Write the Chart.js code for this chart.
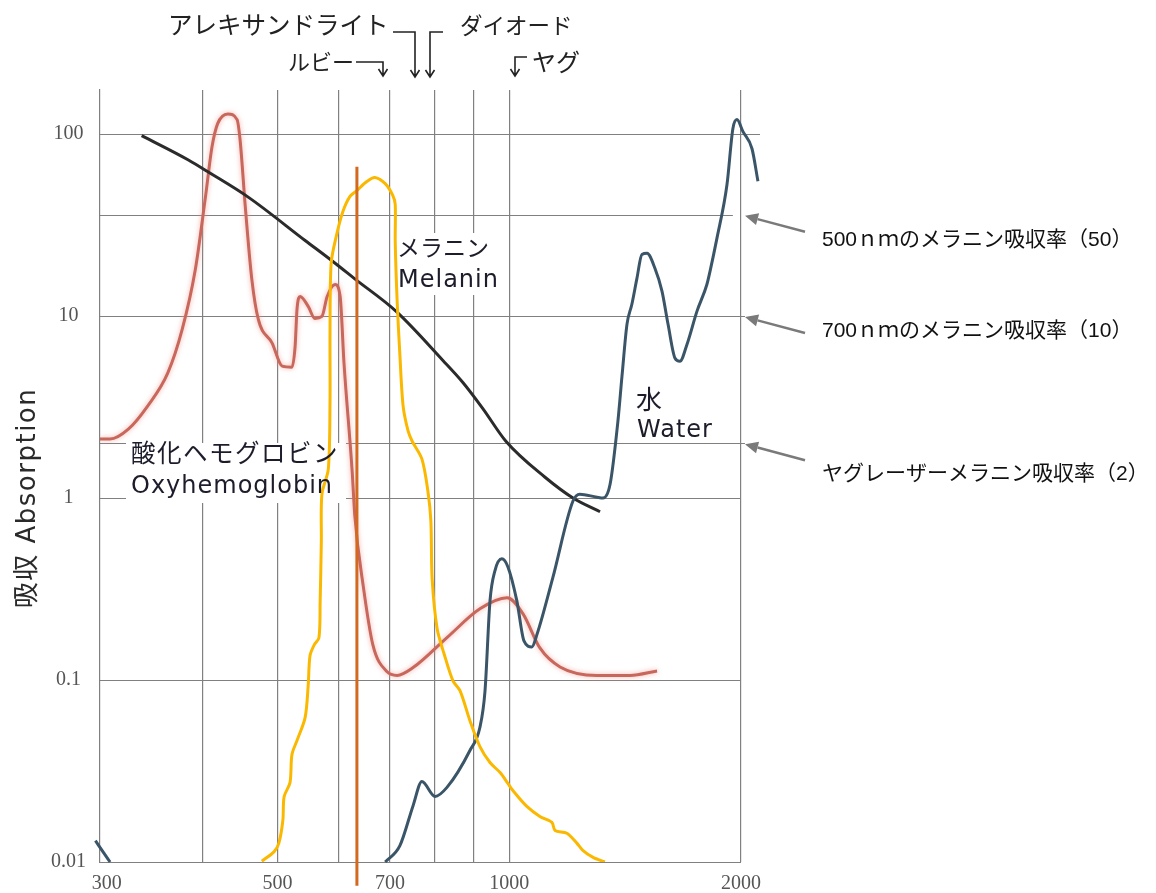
<!DOCTYPE html>
<html>
<head>
<meta charset="utf-8">
<script src="https://cdn.jsdelivr.net/npm/chart.js@4/dist/chart.umd.min.js"></script>
<style>
  html, body { margin: 0; padding: 0; background: #fff; }
  #wrap { width: 1156px; height: 893px; }
</style>
</head>
<body>
<div id="wrap"><canvas id="c" width="1156" height="893"></canvas></div>
<script>
// Wavelength (nm) and absorption per curve
const oxyNm  = [294,303,320,339,360,376,391,403,411,418,431,443,447,454,463,472,492,507,522,527,530,535,548,559,571,580,594,603,610,625,630,646,665,694,715,750,830,916,993,1042,1096,1164,1300,1435,1556];
const oxyAbs = [2.11,2.11,2.39,3.2,4.85,8.46,18,45,85,114,129,120,93,40,15.9,9.6,7.1,5.3,5.23,6.8,10.9,12.8,11.3,9.7,9.96,12.8,14.9,12.8,5.5,1.41,0.8,0.33,0.156,0.111,0.106,0.117,0.171,0.246,0.283,0.231,0.15,0.118,0.106,0.106,0.112];

const melaninNm  = [333,383,406,458,543,594,630,713,820,871,924,990,1113,1210,1312];
const melaninAbs = [98,72,62,45,26,19.5,16,10.6,5.7,4.3,3.1,2.05,1.3,1.0,0.84];

const waterTailNm  = [290,297,303];
const waterTailAbs = [0.0131,0.0113,0.01];
const waterNm  = [690,721,750,770,801,830,889,916,930,944,958,978,996,1023,1045,1070,1086,1139,1210,1235,1300,1324,1352,1384,1401,1422,1443,1465,1487,1510,1546,1579,1608,1642,1666,1702,1753,1806,1823,1861,1918,1952,1976,2012,2067,2104];
const waterAbs = [0.01,0.0123,0.0204,0.0277,0.0229,0.0257,0.041,0.055,0.087,0.272,0.398,0.463,0.418,0.272,0.164,0.152,0.177,0.364,0.963,1.05,1.01,1.0,1.19,2.64,4.67,9.0,11.6,16.1,21.8,22.1,18.3,13.7,9.0,5.86,5.64,7.0,10.6,14.9,17.6,26.7,52.8,107,120,103,83,55];

const lightNm  = [477,495,502,508,510,519,522,530,543,548,551,558,566,568,570,571,582,585,585,587,596,608,621,634,653,669,690,706,711,711,715,721,728,739,748,770,784,791,794,806,823,845,863,889,916,944,973,996,1011,1054,1096,1136,1147,1188,1224,1246,1285,1331];
const lightAbs = [0.0101,0.0114,0.0127,0.0169,0.0229,0.0273,0.0389,0.0465,0.0621,0.093,0.136,0.156,0.171,0.272,0.581,1.05,1.44,3.4,8.24,19.5,27.4,37.5,45.4,48.9,54.8,57.7,53.4,45.9,41.0,25.7,12.2,6.09,3.2,2.33,2.05,1.64,1.09,0.748,0.36,0.191,0.139,0.099,0.0874,0.0598,0.0431,0.0352,0.031,0.027,0.0247,0.0202,0.0178,0.0165,0.0149,0.0144,0.0127,0.0116,0.0106,0.0100];

// Vertical marker wavelength and its absorption span
const markerNm = 634;
const markerAbs = [66, 0.0074];

// Axis ticks
const xGridNm  = [300, 400, 500, 600, 700, 800, 900, 1000, 2000];
const xLabelNm = [300, 500, 700, 1000, 2000];
const yLabelAbs = [0.01, 0.1, 1, 10, 100];
const refLineAbs = [100, 36, 10, 2, 1, 0.1, 0.01];

// Text
const lasers = ['アレキサンドライト', 'ダイオード', 'ルビー', 'ヤグ'];
const notes = ['500ｎｍのメラニン吸収率（50）', '700ｎｍのメラニン吸収率（10）', 'ヤグレーザーメラニン吸収率（2）'];
const noteLineAbs = [36, 10, 2];

const pts = (xs, ys) => xs.map((x, i) => ({ x, y: ys[i] }));

// right end (nm) of each horizontal reference line
const refLineEnd = { 100: 2117, 36: 1952, 10: 2024, 2: 2024, 1: 1994, 0.1: 1994, 0.01: 2000 };

const GRID = '#808080';

const decor = {
  id: 'decor',
  beforeDatasetsDraw(chart) {
    const { ctx, chartArea: a, scales: { x, y } } = chart;
    ctx.save();
    ctx.strokeStyle = GRID;
    ctx.lineWidth = 1.2;
    refLineAbs.forEach(v => {
      const py = Math.round(y.getPixelForValue(v)) + 0.5;
      ctx.beginPath();
      ctx.moveTo(a.left, py);
      ctx.lineTo(x.getPixelForValue(refLineEnd[v]), py);
      ctx.stroke();
    });
    // label backgrounds
    ctx.fillStyle = '#fff';
    ctx.fillRect(126, 443, 220, 60);
    ctx.fillRect(393, 233, 108, 62);
    ctx.restore();
  },
  beforeDatasetDraw(chart, args) {
    if (chart.data.datasets[args.index].glow) {
      const ctx = chart.ctx;
      ctx.save();
      ctx.shadowColor = 'rgba(240,150,140,0.75)';
      ctx.shadowBlur = 5;
    }
  },
  afterDatasetDraw(chart, args) {
    if (chart.data.datasets[args.index].glow) chart.ctx.restore();
  },
  afterDraw(chart) {
    const { ctx, scales: { y } } = chart;
    ctx.save();
    ctx.fillStyle = '#222';
    ctx.textBaseline = 'middle';
    ctx.textAlign = 'left';

    // laser names across the top
    ctx.font = "24.5px 'Noto Sans CJK JP'";
    ctx.fillText(lasers[0], 168, 25);
    ctx.font = "22.5px 'Noto Sans CJK JP'";
    ctx.fillText(lasers[1], 460, 25);
    ctx.font = "22px 'Noto Sans CJK JP'";
    ctx.fillText(lasers[2], 288, 62);
    ctx.font = "24px 'Noto Sans CJK JP'";
    ctx.fillText(lasers[3], 532, 62);

    ctx.strokeStyle = '#222';
    ctx.lineWidth = 1.6;
    const bent = (path) => {
      ctx.beginPath();
      ctx.moveTo(path[0][0], path[0][1]);
      for (let i = 1; i < path.length; i++) ctx.lineTo(path[i][0], path[i][1]);
      const [tx, ty] = path[path.length - 1];
      ctx.moveTo(tx - 4.5, ty - 7);
      ctx.lineTo(tx, ty);
      ctx.lineTo(tx + 4.5, ty - 7);
      ctx.stroke();
    };
    bent([[393, 32], [415, 32], [415, 77]]);
    bent([[443, 32], [430, 32], [430, 77]]);
    bent([[356, 62], [383, 62], [383, 76]]);
    bent([[527, 57], [515, 57], [515, 76]]);

    // curve names
    ctx.fillStyle = '#1c1c2a';
    ctx.font = "23px 'Noto Sans CJK JP'";
    ctx.fillText('メラニン', 397, 247);
    ctx.font = "24px 'DejaVu Sans'";
    ctx.letterSpacing = '1px';
    ctx.fillText('Melanin', 398, 281);
    ctx.fillText('Water', 637, 431);
    ctx.fillText('Oxyhemoglobin', 131, 487);
    ctx.letterSpacing = '1.5px';
    ctx.font = "24.5px 'Noto Sans CJK JP'";
    ctx.fillText('酸化ヘモグロビン', 131, 453);
    ctx.letterSpacing = '0px';
    ctx.font = "26px 'Noto Sans CJK JP'";
    ctx.fillText('水', 636, 399);

    // y axis title
    ctx.save();
    ctx.translate(28, 498);
    ctx.rotate(-Math.PI / 2);
    ctx.textAlign = 'center';
    ctx.fillStyle = '#2a2a2a';
    ctx.font = "26px 'DejaVu Sans', 'Noto Sans CJK JP'";
    ctx.letterSpacing = '1.5px';
    ctx.fillText('吸収 Absorption', 0, 0);
    ctx.restore();

    // notes on the right with arrows to the reference lines
    const noteY = [240, 331, 474];
    ctx.font = "21px 'Liberation Sans', 'Noto Sans CJK JP'";
    ctx.fillStyle = '#111';
    ctx.letterSpacing = '0px';
    notes.forEach((t, i) => ctx.fillText(t, 822, noteY[i]));

    ctx.strokeStyle = '#7a7a7a';
    ctx.fillStyle = '#7a7a7a';
    ctx.lineWidth = 2.5;
    noteLineAbs.forEach(v => {
      const tipX = 745, tipY = y.getPixelForValue(v) + 1;
      const tailX = 805, tailY = tipY + 16;
      const ang = Math.atan2(tipY - tailY, tipX - tailX);
      const hx = tipX - 13 * Math.cos(ang), hy = tipY - 13 * Math.sin(ang);
      ctx.beginPath();
      ctx.moveTo(tailX, tailY);
      ctx.lineTo(hx, hy);
      ctx.stroke();
      ctx.beginPath();
      ctx.moveTo(tipX, tipY);
      ctx.lineTo(hx + 6 * Math.sin(ang), hy - 6 * Math.cos(ang));
      ctx.lineTo(hx - 6 * Math.sin(ang), hy + 6 * Math.cos(ang));
      ctx.closePath();
      ctx.fill();
    });
    ctx.restore();
  }
};

const line = (data, color, width, extra) => Object.assign({
  data, borderColor: color, borderWidth: width, pointRadius: 0,
  fill: false, cubicInterpolationMode: 'monotone'
}, extra || {});

new Chart(document.getElementById('c'), {
  type: 'line',
  data: {
    datasets: [
      line([{ x: markerNm, y: markerAbs[0] }, { x: markerNm, y: markerAbs[1] }], '#d2691e', 3, { cubicInterpolationMode: 'default', tension: 0, clip: false }),
      line(pts(lightNm, lightAbs), '#fbb800', 3, { cubicInterpolationMode: 'default', tension: 0.3 }),
      line(pts(waterTailNm, waterTailAbs), '#3b5568', 3, { clip: false }),
      line(pts(waterNm, waterAbs), '#3b5568', 3, { clip: false }),
      line(pts(melaninNm, melaninAbs), '#2b2b2b', 3),
      line(pts(oxyNm, oxyAbs), '#c8675c', 3, { glow: true })
    ]
  },
  options: {
    responsive: false,
    animation: false,
    layout: { padding: { top: 90, left: 0, right: 396, bottom: 0 } },
    plugins: { legend: { display: false }, tooltip: { enabled: false } },
    scales: {
      x: {
        type: 'logarithmic',
        min: 294,
        max: 2117,
        afterBuildTicks: s => { s.ticks = xGridNm.map(v => ({ value: v })); },
        afterFit: s => { s.height = 31; },
        grid: {
          color: c => (c.tick && c.tick.value === xGridNm[0]) ? 'rgba(0,0,0,0)' : GRID,
          lineWidth: 1.2, drawTicks: false
        },
        border: { display: false },
        ticks: {
          autoSkip: false, maxRotation: 0, padding: 10,
          color: '#555',
          font: { family: "'Liberation Serif', serif", size: 20 },
          callback: v => xLabelNm.includes(v) ? String(v) : ''
        }
      },
      y: {
        type: 'logarithmic',
        min: 0.01,
        max: 174.5,
        afterBuildTicks: s => { s.ticks = yLabelAbs.map(v => ({ value: v })); },
        afterFit: s => { s.width = 100; },
        grid: { display: false, drawTicks: false },
        border: { display: true, color: GRID, width: 1.2 },
        ticks: {
          padding: 14, crossAlign: 'center',
          color: '#555',
          font: { family: "'Liberation Serif', serif", size: 20 },
          callback: v => String(v)
        }
      }
    }
  },
  plugins: [decor]
});
</script>
</body>
</html>
